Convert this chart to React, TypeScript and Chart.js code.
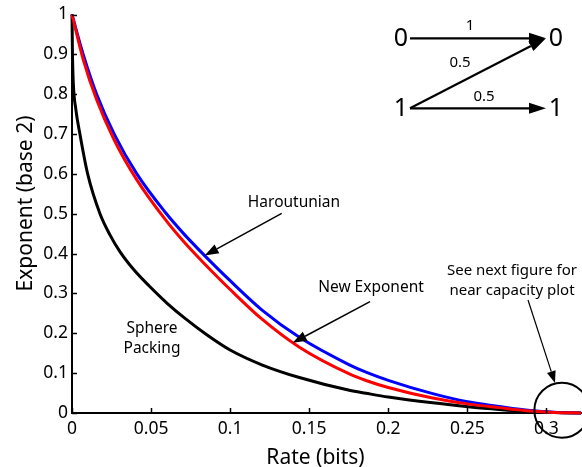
import React, { useEffect, useRef } from 'react';
import { Chart, registerables } from 'chart.js';

Chart.register(...registerables);

const FONT = "'Noto Sans', 'DejaVu Sans', sans-serif";

// Tick values and labels
const xTickValues = [0, 0.05, 0.1, 0.15, 0.2, 0.25, 0.3];
const xTickLabels = ['0', '0.05', '0.1', '0.15', '0.2', '0.25', '0.3'];
const yTickValues = [0, 0.1, 0.2, 0.3, 0.4, 0.5, 0.6, 0.7, 0.8, 0.9, 1];
const yTickLabels = ['0', '0.1', '0.2', '0.3', '0.4', '0.5', '0.6', '0.7', '0.8', '0.9', '1'];

const xMin = 0;
const xMax = 0.3219; // capacity
const yMin = 0;
const yMax = 1;

// Haroutunian (blue)
const harRate = [0, 0.0071, 0.0156, 0.0267, 0.041, 0.0587, 0.0713, 0.0839, 0.1, 0.12, 0.1438, 0.1754, 0.1859, 0.2, 0.2281, 0.2492, 0.27, 0.29, 0.305, 0.3219];
const harValue = [1, 0.9, 0.8, 0.7, 0.6, 0.505, 0.447, 0.395, 0.332, 0.259, 0.19, 0.121, 0.1026, 0.082, 0.0485, 0.029, 0.0165, 0.006, 0.0016, 0];

// New Exponent (red)
const newExpRate = [0, 0.0071, 0.0156, 0.0267, 0.041, 0.0587, 0.0713, 0.0839, 0.1, 0.12, 0.1438, 0.1754, 0.1859, 0.2, 0.2281, 0.2492, 0.27, 0.29, 0.305, 0.3219];
const newExpValue = [1, 0.887, 0.786, 0.685, 0.585, 0.487, 0.427, 0.374, 0.31, 0.236, 0.165, 0.098, 0.0816, 0.064, 0.0375, 0.0235, 0.0135, 0.0048, 0.0013, 0];

// Sphere Packing (black)
const spRate = [0, 0.0003, 0.0008, 0.0025, 0.005, 0.0099, 0.0177, 0.024, 0.0303, 0.039, 0.049, 0.06, 0.0713, 0.085, 0.1, 0.12, 0.1438, 0.1754, 0.1859, 0.2, 0.2281, 0.2492, 0.27, 0.29, 0.305, 0.3219];
const spValue = [1, 0.9, 0.83, 0.76, 0.7, 0.6, 0.5, 0.447, 0.405, 0.36, 0.318, 0.276, 0.238, 0.197, 0.158, 0.121, 0.089, 0.057, 0.0495, 0.04, 0.0255, 0.0165, 0.009, 0.0035, 0.001, 0];

// Annotation anchors (data coordinates of arrow tips / circle)
const harArrowTip = { x: 0.0839, y: 0.395 };
const newArrowTip = { x: 0.1396, y: 0.176 };
const circleCenter = { x: 0.3098, y: 0.007 };

const toPts = (xs: number[], ys: number[]) => xs.map((x, i) => ({ x, y: ys[i] }));

function drawArrow(ctx: CanvasRenderingContext2D, x1: number, y1: number, x2: number, y2: number, headLen: number, headHalf: number, lw: number) {
  const ang = Math.atan2(y2 - y1, x2 - x1);
  const bx = x2 - headLen * Math.cos(ang);
  const by = y2 - headLen * Math.sin(ang);
  ctx.save();
  ctx.strokeStyle = '#000';
  ctx.fillStyle = '#000';
  ctx.lineWidth = lw;
  ctx.beginPath();
  ctx.moveTo(x1, y1);
  ctx.lineTo(bx, by);
  ctx.stroke();
  ctx.beginPath();
  ctx.moveTo(x2, y2);
  ctx.lineTo(bx + headHalf * Math.sin(ang), by - headHalf * Math.cos(ang));
  ctx.lineTo(bx - headHalf * Math.sin(ang), by + headHalf * Math.cos(ang));
  ctx.closePath();
  ctx.fill();
  ctx.restore();
}

function text(ctx: CanvasRenderingContext2D, s: string, x: number, y: number, size: number) {
  ctx.save();
  ctx.font = `${size}px ${FONT}`;
  ctx.fillStyle = '#000';
  ctx.textAlign = 'center';
  ctx.textBaseline = 'middle';
  ctx.fillText(s, x, y);
  ctx.restore();
}

const decorPlugin = {
  id: 'decor',
  afterDatasetsDraw(chart: any) {
    const ctx: CanvasRenderingContext2D = chart.ctx;
    const xs = chart.scales.x;
    const ys = chart.scales.y;
    const area = chart.chartArea;

    // inward tick marks
    ctx.save();
    ctx.strokeStyle = '#000';
    ctx.lineWidth = 1.5;
    ctx.beginPath();
    xTickValues.forEach((v) => {
      const px = Math.round(xs.getPixelForValue(v)) + 0.5;
      ctx.moveTo(px, area.bottom);
      ctx.lineTo(px, area.bottom - 5);
    });
    yTickValues.forEach((v) => {
      const py = Math.round(ys.getPixelForValue(v)) + 0.5;
      ctx.moveTo(area.left, py);
      ctx.lineTo(area.left + 5, py);
    });
    ctx.stroke();
    ctx.restore();

    // axis titles
    ctx.save();
    ctx.font = `21px ${FONT}`;
    ctx.fillStyle = '#000';
    ctx.textAlign = 'center';
    ctx.textBaseline = 'alphabetic';
    ctx.fillText('Rate (bits)', 315.5, 464);
    ctx.translate(31.5, 203.5);
    ctx.rotate(-Math.PI / 2);
    ctx.fillText('Exponent (base 2)', 0, 0);
    ctx.restore();

    // curve labels and arrows
    text(ctx, 'Haroutunian', 294, 203, 15.5);
    const hx = xs.getPixelForValue(harArrowTip.x);
    const hy = ys.getPixelForValue(harArrowTip.y);
    drawArrow(ctx, 281.7, 213.3, hx, hy, 14, 5, 1.5);

    text(ctx, 'New Exponent', 371, 288, 15.5);
    const nx = xs.getPixelForValue(newArrowTip.x);
    const ny = ys.getPixelForValue(newArrowTip.y);
    drawArrow(ctx, 370, 301.7, nx, ny, 14, 5, 1.5);

    text(ctx, 'Sphere', 152, 329, 15.5);
    text(ctx, 'Packing', 152, 349, 15.5);

    text(ctx, 'See next figure for', 512, 271, 15);
    text(ctx, 'near capacity plot', 512, 291, 15);
    drawArrow(ctx, 528, 300, 555, 383, 12, 4.5, 1.2);

    const cx = xs.getPixelForValue(circleCenter.x);
    const cy = ys.getPixelForValue(circleCenter.y);
    ctx.save();
    ctx.strokeStyle = '#000';
    ctx.lineWidth = 2;
    ctx.beginPath();
    ctx.arc(cx, cy, 27.5, 0, Math.PI * 2);
    ctx.stroke();
    ctx.restore();

    // channel diagram (Z channel)
    text(ctx, '0', 401, 39, 25);
    text(ctx, '0', 556, 39, 25);
    text(ctx, '1', 401, 109, 25);
    text(ctx, '1', 556, 109, 25);
    drawArrow(ctx, 410, 38.3, 546, 38.3, 17, 5.5, 2.2);
    drawArrow(ctx, 410, 108.3, 546, 108.3, 17, 5.5, 2.2);
    drawArrow(ctx, 410, 108.3, 546, 38.3, 17, 5.5, 2.2);
    text(ctx, '1', 470, 26, 15);
    text(ctx, '0.5', 460, 63, 15);
    text(ctx, '0.5', 484, 97, 15);
  },
};

export default function App() {
  const ref = useRef<HTMLCanvasElement | null>(null);
  useEffect(() => {
    if (!ref.current) return;
    const common = {
      pointRadius: 0,
      borderWidth: 3,
      fill: false,
      cubicInterpolationMode: 'monotone' as const,
      clip: 6,
    };
    const chart = new Chart(ref.current, {
      type: 'line',
      data: {
        datasets: [
          { label: 'New Exponent', data: toPts(newExpRate, newExpValue), borderColor: '#ff0000', ...common },
          { label: 'Haroutunian', data: toPts(harRate, harValue), borderColor: '#0000ff', ...common },
          { label: 'Sphere Packing', data: toPts(spRate, spValue), borderColor: '#000000', ...common },
        ],
      },
      options: {
        animation: false,
        responsive: false,
        devicePixelRatio: 1,
        parsing: false as any,
        layout: { padding: { left: 0, right: 1, top: 13, bottom: 0 } },
        plugins: { legend: { display: false }, tooltip: { enabled: false } },
        scales: {
          x: {
            type: 'linear',
            min: xMin,
            max: xMax,
            grid: { display: false, drawTicks: false },
            border: { display: true, color: '#000', width: 2 },
            afterBuildTicks: (s: any) => {
              s.ticks = xTickValues.map((v) => ({ value: v }));
            },
            afterFit: (s: any) => {
              s.height = 54;
            },
            ticks: {
              autoSkip: false,
              maxRotation: 0,
              includeBounds: false,
              padding: 6,
              color: '#000',
              font: { family: FONT, size: 17.5 },
              callback: (v: any) => xTickLabels[xTickValues.indexOf(v)],
            },
          },
          y: {
            type: 'linear',
            min: yMin,
            max: yMax,
            grid: { display: false, drawTicks: false },
            border: { display: true, color: '#000', width: 2 },
            afterBuildTicks: (s: any) => {
              s.ticks = yTickValues.map((v) => ({ value: v }));
            },
            afterFit: (s: any) => {
              s.width = 72;
            },
            ticks: {
              autoSkip: false,
              padding: 4,
              color: '#000',
              font: { family: FONT, size: 17.5 },
              callback: (v: any) => yTickLabels[yTickValues.indexOf(v)],
            },
          },
        },
      },
      plugins: [decorPlugin],
    } as any);
    return () => chart.destroy();
  }, []);
  return (
    <div style={{ position: 'fixed', left: 0, top: 0, width: 582, height: 467, background: '#fff' }}>
      <canvas ref={ref} width={582} height={467} style={{ display: 'block' }} />
    </div>
  );
}
